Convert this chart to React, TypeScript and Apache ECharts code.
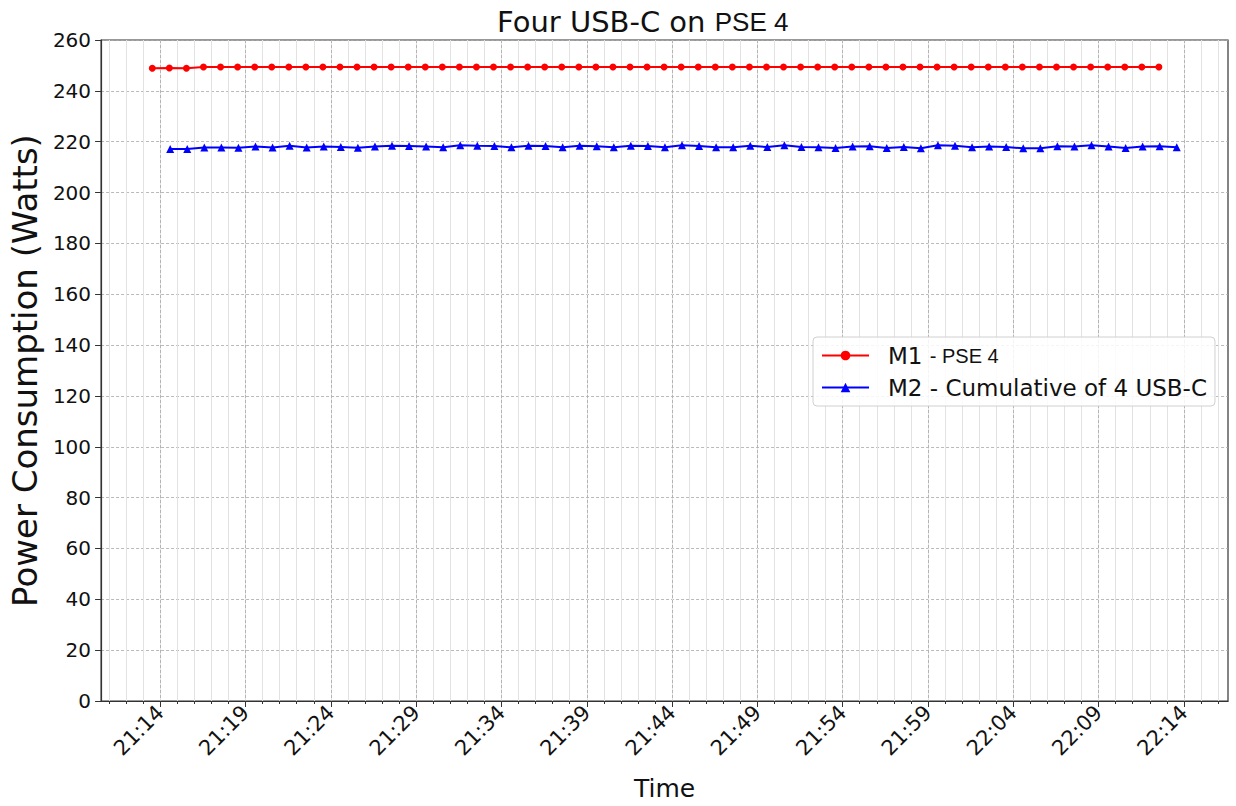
import React, { useEffect, useRef } from 'react';
import * as echarts from 'echarts';

// ---- Data ----
const redName = 'M1 - PSE 4';
const blueName = 'M2 - Cumulative of 4 USB-C';

const redTimes = [
  '21:13:32', '21:14:32', '21:15:32', '21:16:32', '21:17:32', '21:18:32', '21:19:32', '21:20:32', '21:21:32', '21:22:32',
  '21:23:32', '21:24:32', '21:25:32', '21:26:32', '21:27:32', '21:28:32', '21:29:32', '21:30:32', '21:31:32', '21:32:32',
  '21:33:32', '21:34:32', '21:35:32', '21:36:32', '21:37:32', '21:38:32', '21:39:32', '21:40:32', '21:41:32', '21:42:32',
  '21:43:32', '21:44:32', '21:45:32', '21:46:32', '21:47:32', '21:48:32', '21:49:32', '21:50:32', '21:51:32', '21:52:32',
  '21:53:32', '21:54:32', '21:55:32', '21:56:32', '21:57:32', '21:58:32', '21:59:32', '22:00:32', '22:01:32', '22:02:32',
  '22:03:32', '22:04:32', '22:05:32', '22:06:32', '22:07:32', '22:08:32', '22:09:32', '22:10:32', '22:11:32', '22:12:32',
];
const redValues = [
  248.9, 249.0, 248.9, 249.4, 249.4, 249.4, 249.4, 249.4, 249.4, 249.4,
  249.4, 249.4, 249.4, 249.4, 249.4, 249.4, 249.4, 249.4, 249.4, 249.4,
  249.4, 249.4, 249.4, 249.4, 249.4, 249.4, 249.4, 249.4, 249.4, 249.4,
  249.4, 249.4, 249.4, 249.4, 249.4, 249.4, 249.4, 249.4, 249.4, 249.4,
  249.4, 249.4, 249.4, 249.4, 249.4, 249.4, 249.4, 249.4, 249.4, 249.4,
  249.4, 249.4, 249.4, 249.4, 249.4, 249.4, 249.4, 249.4, 249.4, 249.4,
];

const blueTimes = [
  '21:14:35', '21:15:35', '21:16:35', '21:17:35', '21:18:35', '21:19:35', '21:20:35', '21:21:35', '21:22:35', '21:23:35',
  '21:24:35', '21:25:35', '21:26:35', '21:27:35', '21:28:35', '21:29:35', '21:30:35', '21:31:35', '21:32:35', '21:33:35',
  '21:34:35', '21:35:35', '21:36:35', '21:37:35', '21:38:35', '21:39:35', '21:40:35', '21:41:35', '21:42:35', '21:43:35',
  '21:44:35', '21:45:35', '21:46:35', '21:47:35', '21:48:35', '21:49:35', '21:50:35', '21:51:35', '21:52:35', '21:53:35',
  '21:54:35', '21:55:35', '21:56:35', '21:57:35', '21:58:35', '21:59:35', '22:00:35', '22:01:35', '22:02:35', '22:03:35',
  '22:04:35', '22:05:35', '22:06:35', '22:07:35', '22:08:35', '22:09:35', '22:10:35', '22:11:35', '22:12:35', '22:13:35',
];
const blueValues = [
  217.1, 217.1, 217.7, 217.7, 217.6, 218.1, 217.7, 218.4, 217.7, 218.1,
  217.9, 217.6, 218.1, 218.4, 218.3, 218.1, 217.8, 218.6, 218.4, 218.3,
  217.8, 218.4, 218.3, 217.8, 218.4, 218.2, 217.8, 218.4, 218.3, 217.8,
  218.6, 218.3, 217.8, 217.8, 218.4, 217.9, 218.6, 217.9, 217.8, 217.5,
  218.1, 218.2, 217.5, 217.9, 217.4, 218.6, 218.4, 217.8, 218.1, 217.9,
  217.4, 217.4, 218.2, 218.1, 218.6, 218.1, 217.5, 218.1, 218.2, 217.8,
];

const xTickLabels = [
  '21:14', '21:19', '21:24', '21:29', '21:34', '21:39', '21:44',
  '21:49', '21:54', '21:59', '22:04', '22:09', '22:14',
];

const yMin = 0;
const yMax = 260;
const yStep = 20;

// ---- helpers ----
function toMinutes(t: string): number {
  const parts = t.split(':').map(Number);
  return parts[0] * 60 + parts[1] + (parts[2] || 0) / 60;
}
function fmtMinutes(v: number): string {
  const total = Math.round(v);
  const h = Math.floor(total / 60);
  const m = total % 60;
  return String(h).padStart(2, '0') + ':' + String(m).padStart(2, '0');
}

const FONT = 'DejaVu Sans';
const ALT_FONT = 'Liberation Sans';

export default function App() {
  const ref = useRef<HTMLDivElement>(null);

  useEffect(() => {
    if (!ref.current) return;
    const chart = echarts.init(ref.current, undefined, { renderer: 'svg' });

    const redData = redTimes.map((t, i) => [toMinutes(t), redValues[i]]);
    const blueData = blueTimes.map((t, i) => [toMinutes(t), blueValues[i]]);
    const allX = redData.concat(blueData).map((d) => d[0]);
    const dMin = Math.min(...allX);
    const dMax = Math.max(...allX);
    const margin = (dMax - dMin) * 0.05;
    const xMin = dMin - margin;
    const xMax = dMax + margin;

    const majorTicks = xTickLabels.map(toMinutes);
    const minorTicks: number[] = [];
    for (let m = Math.ceil(xMin); m <= Math.floor(xMax); m++) minorTicks.push(m);

    const option: any = {
      animation: false,
      backgroundColor: '#ffffff',
      title: {
        text: 'Four USB-C on {p|PSE 4}',
        left: 492,
        top: 2,
        textStyle: {
          fontFamily: FONT,
          fontSize: 29,
          fontWeight: 'normal',
          color: '#111',
          rich: {
            p: { fontFamily: ALT_FONT, fontSize: 26, color: '#111' },
          },
        },
      },
      grid: {
        left: 100,
        top: 40,
        width: 1128,
        height: 666,
        show: true,
        borderColor: '#333',
        borderWidth: 1.2,
        backgroundColor: 'transparent',
      },
      legend: {
        orient: 'vertical',
        left: 813,
        top: 337,
        padding: [7, 8, 7, 8],
        itemGap: 9,
        itemWidth: 47,
        itemHeight: 12,
        backgroundColor: 'rgba(255,255,255,0.85)',
        borderColor: '#d0d0d0',
        borderWidth: 1,
        borderRadius: 4,
        data: [redName, blueName],
        formatter: (name: string) =>
          name === redName ? '{a|M1} {b|- PSE 4}' : '{a|' + name + '}',
        textStyle: {
          fontFamily: FONT,
          fontSize: 23,
          color: '#111',
          rich: {
            a: { fontFamily: FONT, fontSize: 23, color: '#111', padding: [0, 0, 0, 14] },
            b: { fontFamily: ALT_FONT, fontSize: 20, color: '#111' },
          },
        },
      },
      xAxis: [
        {
          type: 'value',
          min: xMin,
          max: xMax,
          position: 'bottom',
          axisLine: { show: false },
          axisLabel: { show: false },
          axisTick: {
            show: true,
            customValues: minorTicks,
            length: 3,
            lineStyle: { color: '#333', width: 1 },
          },
          splitLine: {
            show: true,
            lineStyle: { color: '#e2e2e2', width: 1, type: 'solid' },
          },
        },
        {
          type: 'value',
          min: xMin,
          max: xMax,
          position: 'bottom',
          name: 'Time',
          nameLocation: 'middle',
          nameGap: 75,
          nameTextStyle: { fontFamily: FONT, fontSize: 25, color: '#111' },
          axisLine: { show: true, onZero: false, lineStyle: { color: '#333', width: 1.2 } },
          axisTick: {
            show: true,
            customValues: majorTicks,
            length: 6,
            lineStyle: { color: '#333', width: 1 },
          },
          axisLabel: {
            customValues: majorTicks,
            rotate: 45,
            margin: 8,
            fontFamily: FONT,
            fontSize: 21,
            color: '#111',
            formatter: (v: number) => fmtMinutes(v),
          },
          splitLine: {
            show: true,
            lineStyle: { color: '#a8a8a8', width: 0.8, type: [3, 2] },
          },
        },
      ],
      yAxis: {
        type: 'value',
        min: yMin,
        max: yMax,
        interval: yStep,
        name: 'Power Consumption (Watts)',
        nameLocation: 'middle',
        nameGap: 57,
        nameTextStyle: { fontFamily: FONT, fontSize: 34, color: '#111' },
        axisLine: { show: true, lineStyle: { color: '#333', width: 1.2 } },
        axisTick: { show: true, length: 6, lineStyle: { color: '#333', width: 1 } },
        axisLabel: { fontFamily: FONT, fontSize: 20, color: '#111', margin: 10 },
        splitLine: {
          show: true,
          lineStyle: { color: '#a8a8a8', width: 0.8, type: [3, 2] },
        },
      },
      series: [
        {
          name: redName,
          type: 'line',
          xAxisIndex: 1,
          data: redData,
          symbol: 'circle',
          symbolSize: 7,
          lineStyle: { color: '#ff0000', width: 2 },
          itemStyle: { color: '#ff0000' },
          z: 3,
        },
        {
          name: blueName,
          type: 'line',
          xAxisIndex: 1,
          data: blueData,
          symbol: 'triangle',
          symbolSize: 8,
          lineStyle: { color: '#0000ff', width: 2 },
          itemStyle: { color: '#0000ff' },
          z: 3,
        },
      ],
    };

    chart.setOption(option);
    return () => {
      chart.dispose();
    };
  }, []);

  return (
    <div
      ref={ref}
      style={{ position: 'fixed', left: 0, top: 0, width: 1236, height: 806, background: '#fff' }}
    />
  );
}
